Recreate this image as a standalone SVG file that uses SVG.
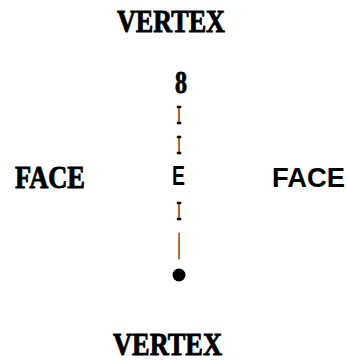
<svg xmlns="http://www.w3.org/2000/svg" width="347" height="361" viewBox="0 0 347 361">
<style>
.serif{font-family:"Liberation Serif","Times New Roman",serif;font-weight:bold;font-size:31px;fill:#000;stroke:#000;stroke-width:0.9px}
.type{font-family:"Liberation Sans",Arial,sans-serif;font-weight:bold;font-size:28px;fill:#000}
.bar{font-family:"Liberation Mono","Courier New",monospace;font-size:28px;fill:#000;stroke:#000;stroke-width:0.5px}
</style>
<rect width="347" height="361" fill="#fff"/>
<g id="vertex-top"><text class="serif" x="117" y="32" textLength="108" lengthAdjust="spacingAndGlyphs">VERTEX</text></g>
<g id="vertex-bottom"><text class="serif" x="113" y="355" textLength="109" lengthAdjust="spacingAndGlyphs">VERTEX</text></g>
<g id="face-left"><text class="serif" x="15" y="188" textLength="70" lengthAdjust="spacingAndGlyphs">FACE</text></g>
<g id="face-right"><text class="type" x="272" y="187" textLength="73" lengthAdjust="spacingAndGlyphs">FACE</text></g>
<g id="eight"><text class="serif" x="175" y="93" textLength="12" lengthAdjust="spacingAndGlyphs">8</text></g>
<g id="edge"><text class="type" x="172" y="185" textLength="13" lengthAdjust="spacingAndGlyphs">E</text></g>
<g id="point"><circle cx="179" cy="275" r="6.5" fill="#000"/></g>
<g id="connectors">
<text class="bar" x="176" y="124" textLength="6" lengthAdjust="spacingAndGlyphs">I</text>
<text class="bar" x="176" y="154" textLength="6" lengthAdjust="spacingAndGlyphs">I</text>
<text class="bar" x="176" y="220" textLength="6" lengthAdjust="spacingAndGlyphs">I</text>
<text class="bar" x="176" y="253" textLength="6" lengthAdjust="spacingAndGlyphs">|</text>
</g>
</svg>
